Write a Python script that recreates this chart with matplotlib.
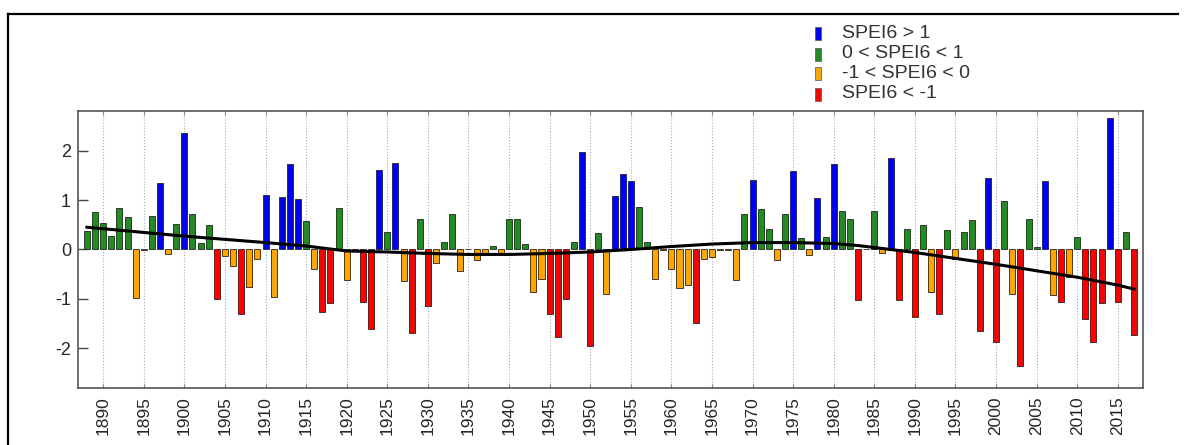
import numpy as np
import matplotlib
matplotlib.use("Agg")
import matplotlib.pyplot as plt
from matplotlib.patches import Rectangle
from matplotlib.lines import Line2D

plt.rcParams['font.family'] = ['Liberation Sans', 'DejaVu Sans']
plt.rcParams['axes.unicode_minus'] = False

# yearly SPEI6 values, 1888-2017
years = list(range(1888, 2018))
spei6 = [
    0.37, 0.76, 0.54, 0.28, 0.84, 0.66, -0.99, -0.02, 0.68, 1.35,   # 1888-1897
    -0.09, 0.51, 2.36, 0.71, 0.14, 0.50, -1.01, -0.14, -0.34, -1.30,  # 1898-1907
    -0.76, -0.20, 1.11, -0.96, 1.07, 1.72, 1.03, 0.57, -0.39, -1.26,  # 1908-1917
    -1.09, 0.84, -0.61, -0.01, -1.07, -1.60, 1.60, 0.35, 1.75, -0.64,  # 1918-1927
    -1.68, 0.62, -1.14, -0.28, 0.15, 0.72, -0.43, 0.02, -0.21, -0.11,  # 1928-1937
    0.08, -0.11, 0.62, 0.62, 0.11, -0.85, -0.60, -1.31, -1.77, -1.01,  # 1938-1947
    0.15, 1.98, -1.95, 0.34, -0.89, 1.08, 1.53, 1.38, 0.85, 0.15,     # 1948-1957
    -0.59, -0.01, -0.39, -0.78, -0.72, -1.49, -0.19, -0.15, -0.02, -0.01,  # 1958-1967
    -0.61, 0.72, 1.41, 0.82, 0.42, -0.21, 0.72, 1.58, 0.24, -0.12,    # 1968-1977
    1.05, 0.26, 1.73, 0.78, 0.62, -1.02, 0.01, 0.77, -0.08, 1.84,     # 1978-1987
    -1.02, 0.42, -1.36, 0.50, -0.85, -1.31, 0.39, -0.20, 0.35, 0.59,  # 1988-1997
    -1.65, 1.45, -1.88, 0.99, -0.90, -2.36, 0.61, 0.05, 1.38, -0.91,  # 1998-2007
    -1.06, -0.55, 0.26, -1.41, -1.86, -1.08, 2.65, -1.06, 0.35, -1.72,  # 2008-2017
]

# smoothed trend curve, read at a few years
trend_years = [1888, 1900, 1910, 1915, 1920, 1925, 1930, 1935, 1940, 1945,
               1950, 1955, 1960, 1965, 1970, 1975, 1980, 1983, 1985, 1990,
               1995, 2000, 2005, 2010, 2015, 2017]
trend_vals = [0.45, 0.27, 0.14, 0.07, -0.03, -0.05, -0.08, -0.10, -0.10, -0.08,
              -0.05, 0.0, 0.06, 0.11, 0.14, 0.14, 0.12, 0.08, 0.04, -0.06,
              -0.18, -0.30, -0.43, -0.56, -0.72, -0.80]

labels = ['SPEI6 > 1', '0 < SPEI6 < 1', '-1 < SPEI6 < 0', 'SPEI6 < -1']
colors = ['#0000ff', '#228b22', '#ffa500', '#ff0000']


def pick_color(v):
    if v > 1:
        return colors[0]
    if v >= 0:
        return colors[1]
    if v >= -1:
        return colors[2]
    return colors[3]


W, H = 1185, 445
fig = plt.figure(figsize=(W / 100, H / 100), dpi=100)
ax = fig.add_axes([78 / W, 1 - 388 / H, (1143 - 78) / W, (388 - 111) / H])

bar_colors = [pick_color(v) for v in spei6]
ax.bar(years, spei6, width=0.74, color=bar_colors, edgecolor='#222222',
       linewidth=0.6, zorder=2)
ax.plot(trend_years, trend_vals, color='black', lw=2.2, zorder=3)

ax.set_xlim(1886.9, 2018.1)
ax.set_ylim(-2.8, 2.8)
ax.set_xticks(range(1890, 2016, 5))
ax.set_xticklabels([str(y) for y in range(1890, 2016, 5)], rotation=90)
ax.set_yticks([-2, -1, 0, 1, 2])
ax.set_yticklabels(['-2', '-1', '0', '1', '2'])
ax.grid(axis='x', color='#aaaaaa', linestyle=':', linewidth=0.8, zorder=0)
ax.tick_params(axis='y', direction='in', length=7, width=1, color='#444444',
               labelsize=13, labelcolor='#262626', pad=5)
ax.tick_params(axis='x', direction='in', length=3, width=0.8, color='#888888',
               top=True, labelsize=12.5, labelcolor='#262626', pad=6)
for s in ax.spines.values():
    s.set_color('#555555')
    s.set_linewidth(1.2)

# legend above the plot, on the right
rows_y = [33, 54, 74, 94]
for c, lab, ry in zip(colors, labels, rows_y):
    fig.add_artist(Rectangle((815 / W, 1 - (ry + 6.5) / H), 6 / W, 13 / H,
                             transform=fig.transFigure, facecolor=c,
                             edgecolor='#555555', linewidth=0.5))
    fig.text(842 / W, 1 - ry / H, lab, fontsize=14, color='#333333',
             va='center', ha='left')

# outer frame (left and top edges visible)
fig.add_artist(Line2D([8 / W, 8 / W], [0, 1 - 14 / H], transform=fig.transFigure,
                      color='black', lw=1.6))
fig.add_artist(Line2D([8 / W, 1178 / W], [1 - 14 / H, 1 - 14 / H],
                      transform=fig.transFigure, color='black', lw=1.6))

fig.savefig('out.png', dpi=100)
